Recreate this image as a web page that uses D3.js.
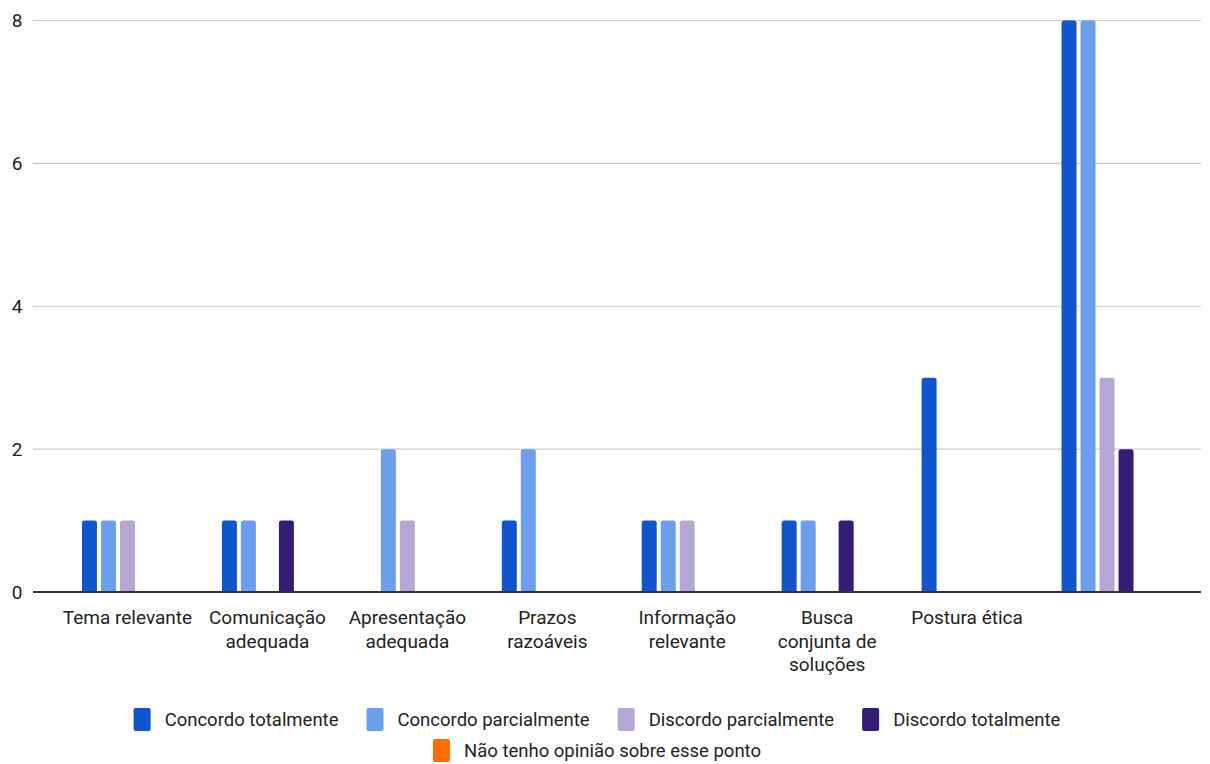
<!DOCTYPE html>
<html>
<head>
<meta charset="utf-8">
<script src="https://cdn.jsdelivr.net/npm/d3@7"></script>
<style>
  html, body { margin: 0; padding: 0; background: #fff; }
  svg { display: block; }
  text { font-family: Roboto, "Liberation Sans", Arial, sans-serif; fill: #222; }
</style>
</head>
<body>
<svg id="chart" width="1210" height="764"></svg>
<script>
// Categories (line breaks mark how each axis label wraps)
const categories = [
  "Tema relevante",
  "Comunicação\nadequada",
  "Apresentação\nadequada",
  "Prazos\nrazoáveis",
  "Informação\nrelevante",
  "Busca\nconjunta de\nsoluções",
  "Postura ética",
  ""
];

const seriesNames = [
  "Concordo totalmente",
  "Concordo parcialmente",
  "Discordo parcialmente",
  "Discordo totalmente",
  "Não tenho opinião sobre esse ponto"
];

const seriesColors = ["#1155cc", "#6d9eeb", "#b4a7d6", "#351c75", "#ff6d01"];

// Response counts per category, one array per series
const concordoTotalmente   = [1, 1, 0, 1, 1, 1, 3, 8];
const concordoParcialmente = [1, 1, 2, 2, 1, 1, 0, 8];
const discordoParcialmente = [1, 0, 1, 0, 1, 0, 0, 3];
const discordoTotalmente   = [0, 1, 0, 0, 0, 1, 0, 2];
const naoTenhoOpiniao      = [0, 0, 0, 0, 0, 0, 0, 0];

const yTicks = [0, 2, 4, 6, 8];

const seriesValues = [concordoTotalmente, concordoParcialmente, discordoParcialmente, discordoTotalmente, naoTenhoOpiniao];

const svg = d3.select("#chart");

const plot = { left: 57.5, right: 1177, top: 20.5, bottom: 592, gridLeft: 33, gridRight: 1201 };

const x0 = d3.scaleBand().domain(d3.range(categories.length)).range([plot.left, plot.right]);
const groupWidth = 91;
const x1 = d3.scaleBand().domain(d3.range(seriesNames.length))
  .range([0, groupWidth]).paddingInner(4 / 19).paddingOuter(0);
const groupOffset = (x0.bandwidth() - groupWidth) / 2;

const y = d3.scaleLinear().domain([0, 8]).range([plot.bottom, plot.top]);

// Horizontal gridlines
svg.append("g").selectAll("line").data(yTicks.filter(t => t !== 0)).join("line")
  .attr("x1", plot.gridLeft).attr("x2", plot.gridRight)
  .attr("y1", d => y(d)).attr("y2", d => y(d))
  .attr("stroke", "#cccccc").attr("stroke-width", 1.2);

// Y axis labels
svg.append("g").selectAll("text").data(yTicks).join("text")
  .attr("x", 22.5).attr("y", d => y(d))
  .attr("dy", "0.36em")
  .attr("text-anchor", "end")
  .attr("font-size", 19)
  .text(d => d);

// Bars with rounded top corners
function topRoundedBar(x, yTop, w, yBottom, r) {
  const h = yBottom - yTop;
  r = Math.min(r, h, w / 2);
  return `M${x},${yBottom}V${yTop + r}Q${x},${yTop} ${x + r},${yTop}H${x + w - r}Q${x + w},${yTop} ${x + w},${yTop + r}V${yBottom}Z`;
}

const bars = [];
seriesValues.forEach((vals, s) => {
  vals.forEach((v, c) => { if (v > 0) bars.push({ s, c, v }); });
});

svg.append("g").selectAll("path").data(bars).join("path")
  .attr("d", d => topRoundedBar(x0(d.c) + groupOffset + x1(d.s), y(d.v), x1.bandwidth(), y(0), 2.5))
  .attr("fill", d => seriesColors[d.s]);

// Baseline
svg.append("line")
  .attr("x1", plot.gridLeft).attr("x2", plot.gridRight)
  .attr("y1", y(0)).attr("y2", y(0))
  .attr("stroke", "#333333").attr("stroke-width", 2);

// Category labels
const catG = svg.append("g").selectAll("text").data(categories).join("text")
  .attr("text-anchor", "middle")
  .attr("font-size", 19)
  .attr("transform", (d, i) => `translate(${x0(i) + groupOffset + groupWidth / 2},0)`);
catG.each(function(d) {
  const lines = d.split("\n");
  d3.select(this).selectAll("tspan").data(lines).join("tspan")
    .attr("x", 0)
    .attr("y", (l, j) => 624 + j * 23.5)
    .text(l => l);
});

// Legend
const legendRows = [
  [0, 1, 2, 3],
  [4]
];
const legendRowY = [719.5, 750.5];
const sw = 17, sh = 23, swGap = 14, itemGap = 28;
const legend = svg.append("g");
legendRows.forEach((row, r) => {
  const g = legend.append("g");
  let cx = 0;
  row.forEach(s => {
    const item = g.append("g").attr("transform", `translate(${cx},0)`);
    item.append("rect").attr("x", 0).attr("y", -sh / 2).attr("width", sw).attr("height", sh)
      .attr("rx", 2).attr("fill", seriesColors[s]);
    const t = item.append("text").attr("x", sw + swGap).attr("y", 0).attr("dy", "0.35em")
      .attr("font-size", 18.5).text(seriesNames[s]);
    cx += sw + swGap + t.node().getComputedTextLength() + itemGap;
  });
  const total = cx - itemGap;
  g.attr("transform", `translate(${(1210 - total) / 2 - 8},${legendRowY[r]})`);
});
</script>
</body>
</html>
